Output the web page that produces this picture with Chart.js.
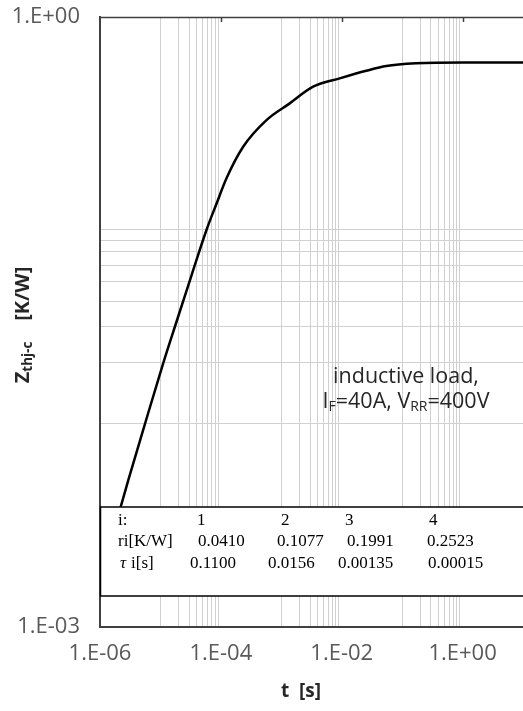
<!DOCTYPE html>
<html>
<head>
<meta charset="utf-8">
<script src="https://cdn.jsdelivr.net/npm/chart.js@4.4.1/dist/chart.umd.min.js"></script>
<style>
  html, body { margin: 0; padding: 0; background: #fff; }
  #wrap { width: 523px; height: 711px; }
</style>
</head>
<body>
<div id="wrap"><canvas id="zthChart" width="523" height="711"></canvas></div>
<script>
// Transient thermal impedance junction-case vs pulse time
const timeSec = [1e-6, 2.2e-6, 2.94e-6, 5.2e-6, 1.11e-5, 1.85e-5, 3.28e-5, 5.78e-5, 8.5e-5,
  1.24e-4, 2.34e-4, 5.69e-4, 1.38e-3, 3.36e-3, 9.27e-3, 2.55e-2, 5.47e-2, 0.171, 1.0, 10];
const zthKW = [0.0018, 0.0039, 0.00528, 0.00935, 0.0198, 0.0318, 0.0538, 0.0896, 0.121,
  0.161, 0.230, 0.311, 0.376, 0.454, 0.499, 0.544, 0.574, 0.592, 0.598, 0.598];

const xLabelValues = [1e-6, 1e-4, 1e-2, 1];
const xTickLabels = ['1.E-06', '1.E-04', '1.E-02', '1.E+00'];
const yLabelValues = [1e-3, 1];
const yTickLabels = ['1.E-03', '1.E+00'];

// Foster model parameters printed in the box
const tableHead = ['i:', '1', '2', '3', '4'];
const tableRi = ['ri[K/W]', '0.0410', '0.1077', '0.1991', '0.2523'];
const tableTau = ['i[s]', '0.1100', '0.0156', '0.00135', '0.00015'];

const SANS = "'Malgun Gothic', 'Open Sans', 'Noto Sans', sans-serif";
const SERIF = "'Times New Roman', 'Liberation Serif', serif";

// minor gridlines: 1..9 x 10^d (Excel style, base-100 / base-1000 axes)
const xGrid = [];
[-5, -3, -1].forEach(d => { for (let k = 1; k <= 9; k++) xGrid.push(k * Math.pow(10, d)); });
const yGrid = [];
for (let k = 1; k <= 9; k++) yGrid.push(k * 1e-2);

const sameVal = (a, b) => Math.abs(Math.log10(a) - Math.log10(b)) < 1e-6;
const labelFor = (vals, labels) => (value) => {
  const i = vals.findIndex(v => sameVal(v, value));
  return i >= 0 ? labels[i] : '';
};

// draw a run of text pieces; pieces: [text, font, dy]
function drawPieces(ctx, pieces, cx, cy) {
  let total = 0;
  pieces.forEach(p => { ctx.font = p[1]; total += ctx.measureText(p[0]).width; });
  let x = cx - total / 2;
  pieces.forEach(p => {
    ctx.font = p[1];
    ctx.fillText(p[0], x, cy + (p[2] || 0));
    x += ctx.measureText(p[0]).width;
  });
}

const extras = {
  id: 'extras',
  afterDatasetsDraw(chart) {
    const { ctx, chartArea: a, scales: { x } } = chart;
    ctx.save();

    // top frame line and its inner major ticks
    ctx.strokeStyle = '#404040';
    ctx.lineWidth = 1.5;
    ctx.beginPath();
    ctx.moveTo(a.left, a.top + 0.5);
    ctx.lineTo(a.right, a.top + 0.5);
    xLabelValues.slice(1).forEach(v => {
      const px = Math.round(x.getPixelForValue(v)) + 0.5;
      ctx.moveTo(px, a.top);
      ctx.lineTo(px, a.top + 5);
    });
    ctx.stroke();

    // parameter box
    const boxTop = a.bottom - 120, boxBottom = a.bottom - 31;
    ctx.fillStyle = '#fff';
    ctx.fillRect(a.left, boxTop, a.right - a.left + 2, boxBottom - boxTop);
    ctx.strokeStyle = '#000';
    ctx.lineWidth = 1.5;
    ctx.strokeRect(a.left + 0.5, boxTop, a.right - a.left + 4, boxBottom - boxTop);

    ctx.fillStyle = '#000';
    ctx.textAlign = 'left';
    ctx.textBaseline = 'alphabetic';
    ctx.font = '17px ' + SERIF;
    const rows = [
      [tableHead, [118, 197, 281, 345, 429], boxTop + 18],
      [tableRi, [118, 198, 277, 347, 427], boxTop + 39],
      [tableTau, [131, 190, 268, 338, 428], boxTop + 61]
    ];
    rows.forEach(([cells, xs, by]) => {
      cells.forEach((t, i) => ctx.fillText(t, xs[i], by));
    });
    ctx.font = 'italic 17px ' + SERIF;
    ctx.fillText('\u03C4', 120, boxTop + 61);

    // test condition note
    ctx.fillStyle = '#262626';
    ctx.textAlign = 'left';
    ctx.textBaseline = 'middle';
    const f = '21.5px ' + SANS, fs = '14px ' + SANS;
    drawPieces(ctx, [['inductive load,', f]], 406, 377);
    drawPieces(ctx, [['I', f], ['F', fs, 5], ['=40A, V', f], ['RR', fs, 5], ['=400V', f]], 406, 402);

    // axis titles
    ctx.fillStyle = '#262626';
    drawPieces(ctx, [['t  [s]', 'bold 19px ' + SANS]], 301, 692);
    ctx.translate(23, 325);
    ctx.rotate(-Math.PI / 2);
    const fb = 'bold 20px ' + SANS, fbs = 'bold 13.5px ' + SANS;
    drawPieces(ctx, [['Z', fb], ['thj-c', fbs, 5], ['    [K/W]', fb]], 0, 0);
    ctx.restore();
  }
};

const ctx = document.getElementById('zthChart').getContext('2d');
new Chart(ctx, {
  type: 'line',
  data: {
    datasets: [{
      data: timeSec.map((t, i) => ({ x: t, y: zthKW[i] })),
      borderColor: '#000',
      borderWidth: 2.5,
      pointRadius: 0,
      cubicInterpolationMode: 'monotone',
      fill: false
    }]
  },
  options: {
    responsive: false,
    animation: false,
    devicePixelRatio: 1,
    layout: { padding: { top: 17, right: 0, left: 0, bottom: 0 } },
    plugins: { legend: { display: false }, tooltip: { enabled: false } },
    scales: {
      x: {
        type: 'logarithmic',
        min: 1e-6,
        max: 10,
        afterBuildTicks: (s) => { s.ticks = xLabelValues.concat(xGrid, [10]).sort((a, b) => a - b).map(v => ({ value: v })); },
        afterFit: (s) => { s.height = 84; s.paddingLeft = 0; s.paddingRight = 0; },
        ticks: {
          autoSkip: false,
          maxRotation: 0,
          padding: 14,
          color: '#595959',
          font: { family: SANS, size: 22 },
          callback: labelFor(xLabelValues, xTickLabels)
        },
        grid: {
          drawTicks: false,
          lineWidth: 1,
          color: (c) => (c.tick && xGrid.some(v => sameVal(v, c.tick.value))) ? '#d0d0d0' : 'rgba(0,0,0,0)'
        },
        border: { display: true, color: '#404040', width: 2 }
      },
      y: {
        type: 'logarithmic',
        min: 1e-3,
        max: 1,
        afterBuildTicks: (s) => { s.ticks = yLabelValues.concat(yGrid).sort((a, b) => a - b).map(v => ({ value: v })); },
        afterFit: (s) => { s.width = 100; s.paddingTop = 0; s.paddingBottom = 0; },
        ticks: {
          autoSkip: false,
          padding: 20,
          color: '#595959',
          font: { family: SANS, size: 22 },
          callback: labelFor(yLabelValues, yTickLabels)
        },
        grid: {
          drawTicks: false,
          lineWidth: 1,
          color: (c) => (c.tick && yGrid.some(v => sameVal(v, c.tick.value))) ? '#d0d0d0' : 'rgba(0,0,0,0)'
        },
        border: { display: true, color: '#404040', width: 2 }
      }
    }
  },
  plugins: [extras]
});
</script>
</body>
</html>
